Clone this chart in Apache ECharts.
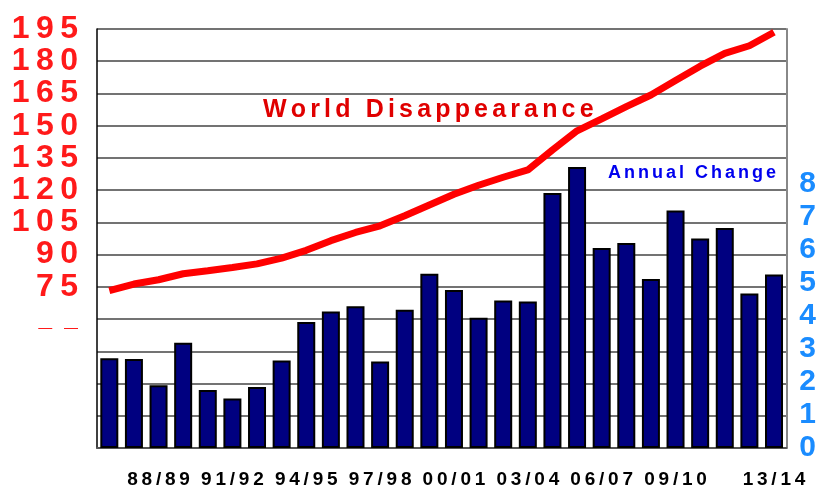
<!DOCTYPE html>
<html>
<head>
    <meta charset="utf-8">
    <title>World Disappearance</title>
    <script src="https://cdn.jsdelivr.net/npm/echarts@6.0.0/dist/echarts.min.js"></script>
    <style>
        body { margin: 0; background: #fff; }
        #chart1 { width: 819px; height: 492px; }
    </style>
</head>
<body>
<div id="chart1"></div>
<script type="text/javascript">
    // marketing years, one bar / one line point each
    var categories = ['86/87', '87/88', '88/89', '89/90', '90/91', '91/92', '92/93', '93/94', '94/95', '95/96',
        '96/97', '97/98', '98/99', '99/00', '00/01', '01/02', '02/03', '03/04', '04/05', '05/06',
        '06/07', '07/08', '08/09', '09/10', '10/11', '11/12', '12/13', '13/14'];
    // years that get a label under the axis
    var shownLabels = ['88/89', '91/92', '94/95', '97/98', '00/01', '03/04', '06/07', '09/10', '13/14'];

    // world disappearance (left axis)
    var disappearance = [73.2, 76.3, 78.3, 81.1, 82.5, 84.0, 85.7, 88.4, 92.0, 96.5,
        100.3, 103.4, 108.1, 113.1, 118.1, 122.3, 126.0, 129.4, 138.7, 147.6,
        153.2, 158.9, 164.3, 171.0, 177.7, 183.7, 187.2, 193.5];
    // annual change (right axis)
    var annualChange = [2.72, 2.70, 1.90, 3.19, 1.76, 1.50, 1.85, 2.65, 3.82, 4.14,
        4.30, 2.62, 4.19, 5.28, 4.79, 3.95, 4.47, 4.44, 7.73, 8.52,
        6.06, 6.21, 5.12, 7.20, 6.35, 6.67, 4.68, 5.26];

    var font = 'Liberation Sans, Arial, sans-serif';

    // the old slide spreads its letters out, fake it with narrow spaces
    function spaced(s, sep) {
        return s.split('').join(sep);
    }

    var myChart1 = echarts.init(document.getElementById('chart1'));

    myChart1.setOption({
        animation: false,
        backgroundColor: '#fff',
        title: [
            {
                text: spaced('World Disappearance', '\u2006'),
                left: 263,
                top: 98,
                padding: 0,
                textStyle: { color: '#e00000', fontSize: 25, fontWeight: 'bold', fontFamily: font }
            },
            {
                text: spaced('Annual Change', '\u2006'),
                left: 608,
                top: 164,
                padding: 0,
                textStyle: { color: '#0000ee', fontSize: 18, fontWeight: 'bold', fontFamily: font }
            }
        ],
        grid: { left: 97, right: 29, top: 29, bottom: 44, containLabel: false },
        xAxis: {
            type: 'category',
            data: categories,
            boundaryGap: true,
            axisLine: { lineStyle: { color: '#555', width: 2 } },
            axisTick: { alignWithLabel: true, interval: 0, length: 12, lineStyle: { color: '#555', width: 1.5 } },
            axisLabel: {
                interval: 0,
                margin: 22,
                color: '#000',
                fontSize: 19,
                fontWeight: 'bold',
                fontFamily: font,
                formatter: function (v) {
                    return shownLabels.indexOf(v) >= 0 ? spaced(v, '\u2009') : '';
                }
            }
        },
        yAxis: [
            {
                type: 'value',
                min: 0,
                max: 195,
                interval: 15,
                axisLine: { show: true, lineStyle: { color: '#000', width: 1.5 } },
                axisTick: { show: false },
                splitLine: { show: true, lineStyle: { color: '#444', width: 1.5 } },
                axisLabel: {
                    margin: 19,
                    color: '#ff1a1a',
                    fontSize: 32,
                    fontWeight: 'bold',
                    fontFamily: font,
                    formatter: function (v) {
                        if (v >= 75) return spaced(String(v), '\u2009');
                        if (v === 60) return '{d|\u2014   \u2014}';
                        return '';
                    },
                    rich: {
                        d: { fontSize: 14, fontWeight: 'normal', color: '#ff1a1a', padding: [18, 0, 0, 0] }
                    }
                }
            },
            {
                type: 'value',
                min: 0,
                max: 12.7,
                interval: 1,
                position: 'right',
                axisLine: { show: true, lineStyle: { color: '#888', width: 2 } },
                axisTick: { show: false },
                splitLine: { show: false },
                axisLabel: {
                    margin: 13,
                    color: '#1a8cff',
                    fontSize: 30,
                    fontWeight: 'bold',
                    fontFamily: font,
                    formatter: function (v) {
                        return (v <= 8 && v === Math.round(v)) ? String(v) : '';
                    }
                }
            }
        ],
        series: [
            {
                name: 'Annual Change',
                type: 'bar',
                yAxisIndex: 1,
                data: annualChange,
                barWidth: 18,
                itemStyle: { color: '#000080', borderColor: '#000', borderWidth: 2 }
            },
            {
                name: 'World Disappearance',
                type: 'line',
                yAxisIndex: 0,
                data: disappearance,
                showSymbol: false,
                symbol: 'none',
                z: 5,
                lineStyle: { color: '#ff0000', width: 7 }
            }
        ]
    });
</script>
</body>
</html>
